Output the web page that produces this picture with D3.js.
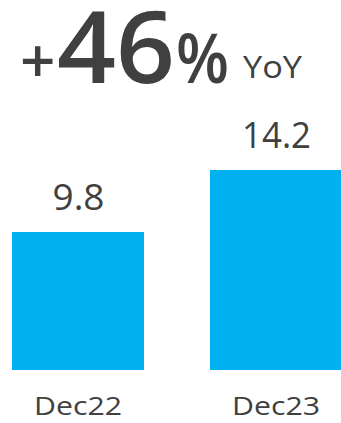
<!DOCTYPE html>
<html>
<head>
<meta charset="utf-8">
<script src="https://cdn.jsdelivr.net/npm/d3@7"></script>
<style>
  body { margin: 0; background: #fff; }
  text { font-family: "Open Sans", "Noto Sans", sans-serif; fill: #404040; }
</style>
</head>
<body>
<div id="chart"></div>
<script>
const periods = ['Dec22', 'Dec23']
const values = [9.8, 14.2]
const headlineSign = '+'
const headlineValue = '46'
const headlineUnit = '%'
const headlineSuffix = 'YoY'

const width = 341, height = 423

const svg = d3.select('#chart')
  .append('svg')
  .attr('width', width)
  .attr('height', height)

const x = d3.scaleBand()
  .domain(periods)
  .range([12, 342])
  .paddingInner(1 / 3)
  .paddingOuter(0)

// 0 sits on the bar baseline, 14.2 reaches y=170
const y = d3.scaleLinear()
  .domain([0, 14.2])
  .range([370, 170])

const data = periods.map((p, i) => ({period: p, value: values[i]}))

svg.append('g')
  .selectAll('rect')
  .data(data)
  .enter().append('rect')
  .attr('x', d => x(d.period))
  .attr('y', d => y(d.value))
  .attr('width', x.bandwidth())
  .attr('height', d => y(0) - y(d.value))
  .attr('fill', '#00b0f0')

// value labels, stretched a bit to match the wider original face
svg.append('g')
  .selectAll('text')
  .data(data)
  .enter().append('text')
  .attr('x', d => x(d.period) + x.bandwidth() / 2 - d.value.toFixed(1).length * 8.5)
  .attr('y', d => y(d.value) - 22)
  .attr('textLength', d => d.value.toFixed(1).length * 17 + 1)
  .attr('lengthAdjust', 'spacingAndGlyphs')
  .style('font-size', '36px')
  .text(d => d.value.toFixed(1))

svg.append('g')
  .selectAll('text')
  .data(data)
  .enter().append('text')
  .attr('x', d => x(d.period) + x.bandwidth() / 2 - 44)
  .attr('y', 415)
  .attr('textLength', 88)
  .attr('lengthAdjust', 'spacingAndGlyphs')
  .style('font-size', '26px')
  .text(d => d.period)

const head = svg.append('g').style('font-weight', 600)

head.append('text')
  .attr('x', 20)
  .attr('y', 83)
  .style('font-size', '62px')
  .text(headlineSign)

head.append('text')
  .attr('x', 57)
  .attr('y', 83)
  .attr('textLength', 118)
  .attr('lengthAdjust', 'spacingAndGlyphs')
  .style('font-size', '99px')
  .text(headlineValue)

head.append('text')
  .attr('x', 176)
  .attr('y', 83)
  .attr('textLength', 53)
  .attr('lengthAdjust', 'spacingAndGlyphs')
  .style('font-size', '68px')
  .text(headlineUnit)

svg.append('text')
  .attr('x', 243)
  .attr('y', 78)
  .attr('textLength', 59)
  .attr('lengthAdjust', 'spacingAndGlyphs')
  .style('font-size', '31px')
  .text(headlineSuffix)
</script>
</body>
</html>
